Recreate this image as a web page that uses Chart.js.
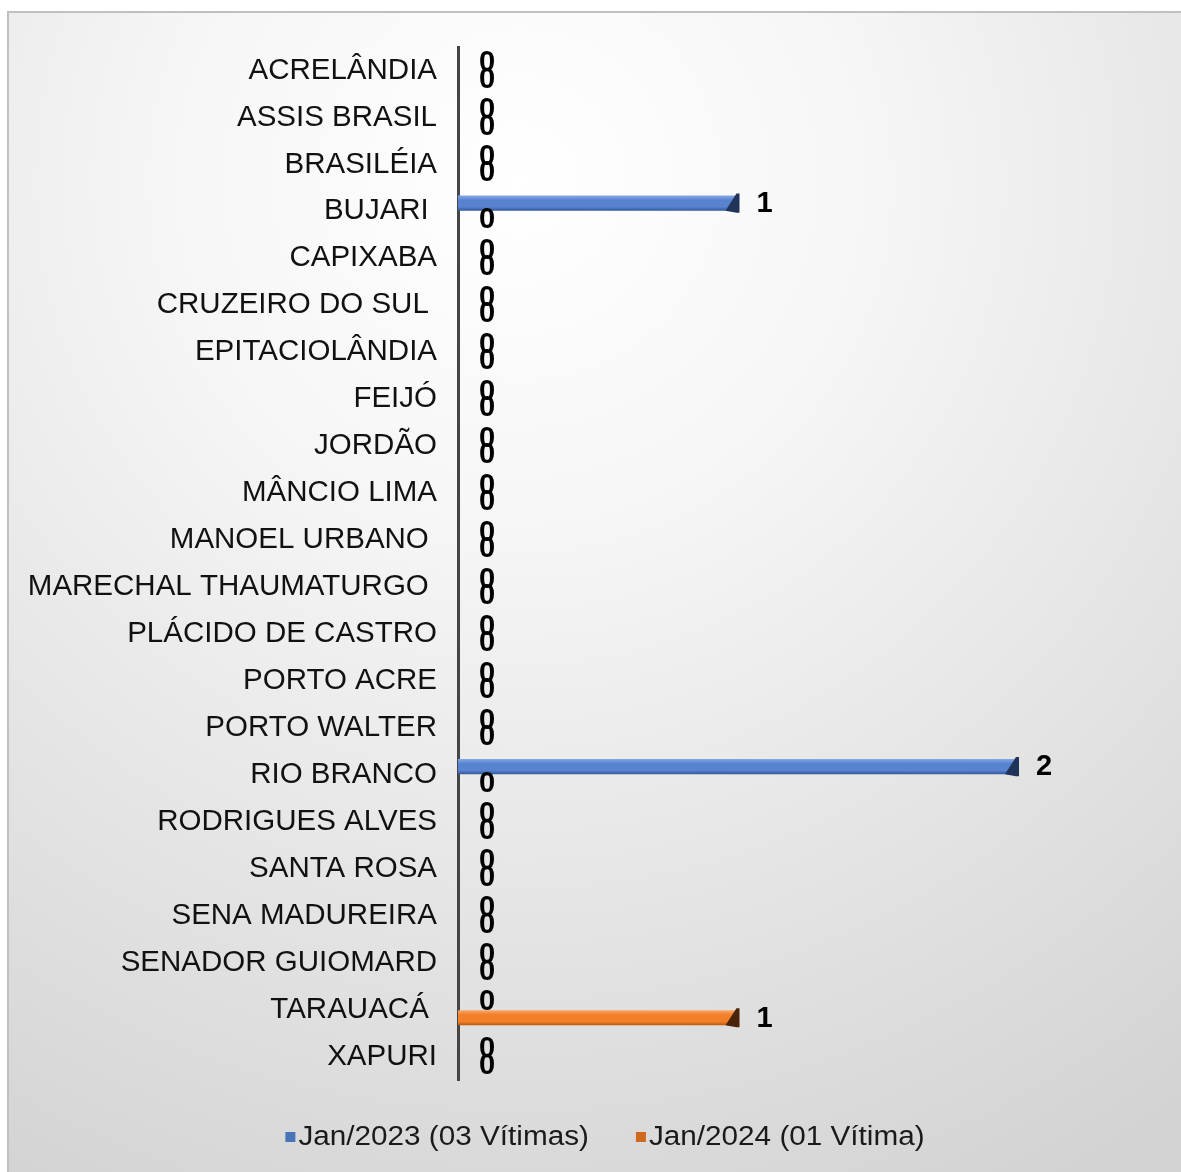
<!DOCTYPE html>
<html>
<head>
<meta charset="utf-8">
<script src="https://cdn.jsdelivr.net/npm/chart.js@4.4.1/dist/chart.umd.min.js"></script>
<style>
  html, body { margin: 0; padding: 0; background: #ffffff; }
  #wrap { width: 1181px; height: 1172px; position: relative; }
</style>
</head>
<body>
<div id="wrap"><canvas id="myChart" width="1181" height="1172"></canvas></div>
<script>
// dados
const municipios = ["ACRELÂNDIA", "ASSIS BRASIL", "BRASILÉIA", "BUJARI ", "CAPIXABA", "CRUZEIRO DO SUL ",
  "EPITACIOLÂNDIA", "FEIJÓ", "JORDÃO", "MÂNCIO LIMA", "MANOEL URBANO ", "MARECHAL THAUMATURGO ",
  "PLÁCIDO DE CASTRO", "PORTO ACRE", "PORTO WALTER", "RIO BRANCO", "RODRIGUES ALVES", "SANTA ROSA",
  "SENA MADUREIRA", "SENADOR GUIOMARD", "TARAUACÁ ", "XAPURI"];
const jan2023 = [0, 0, 0, 1, 0, 0, 0, 0, 0, 0, 0, 0, 0, 0, 0, 2, 0, 0, 0, 0, 0, 0];
const jan2024 = [0, 0, 0, 0, 0, 0, 0, 0, 0, 0, 0, 0, 0, 0, 0, 0, 0, 0, 0, 0, 1, 0];
const legendas = ["Jan/2023 (03 Vítimas)", "Jan/2024 (01 Vítima)"];

const cores = [
  { top: "#86a9e6", mid: "#5783d0", bot: "#33599c", cap: "#1f3458", legend: "#4a74b8" },
  { top: "#f9aa6a", mid: "#f2802a", bot: "#b8590d", cap: "#4a2408", legend: "#d0691e" }
];

function barFill(ds) {
  return (c) => {
    const el = c.element;
    const chart = c.chart;
    if (!el || el.y === undefined || isNaN(el.y) || !el.height) return cores[ds].mid;
    const h = el.height;
    const g = chart.ctx.createLinearGradient(0, el.y - h / 2, 0, el.y + h / 2);
    g.addColorStop(0, cores[ds].top);
    g.addColorStop(0.3, cores[ds].mid);
    g.addColorStop(0.75, cores[ds].mid);
    g.addColorStop(1, cores[ds].bot);
    return g;
  };
}

// fundo com gradiente e moldura
const fundo = {
  id: "fundo",
  beforeDraw(chart) {
    const ctx = chart.ctx;
    ctx.save();
    const g = ctx.createRadialGradient(520, 180, 0, 520, 180, 1150);
    g.addColorStop(0, "#ffffff");
    g.addColorStop(0.3, "#f6f6f6");
    g.addColorStop(1, "#d2d2d2");
    ctx.fillStyle = g;
    ctx.fillRect(8, 12, 1180, 1170);
    ctx.strokeStyle = "#c0c0c0";
    ctx.lineWidth = 2;
    ctx.strokeRect(8, 12, 1180, 1170);
    ctx.restore();
  }
};

// rotulos de dados e legenda
const rotulos = {
  id: "rotulos",
  afterDatasetsDraw(chart) {
    const ctx = chart.ctx;
    ctx.save();
    chart.data.datasets.forEach((ds, i) => {
      const meta = chart.getDatasetMeta(i);
      meta.data.forEach((bar, j) => {
        const v = ds.data[j];
        const h = bar.height;
        if (v > 0) {
          // ponta escura da barra
          ctx.fillStyle = cores[i].cap;
          ctx.beginPath();
          ctx.moveTo(bar.x - 12, bar.y + h / 2);
          ctx.lineTo(bar.x - 1, bar.y - h / 2 - 2);
          ctx.lineTo(bar.x + 2, bar.y - h / 2 - 2);
          ctx.lineTo(bar.x + 2, bar.y + h / 2 + 2);
          ctx.lineTo(bar.x - 1, bar.y + h / 2 + 2);
          ctx.closePath();
          ctx.fill();
        }
        ctx.save();
        ctx.translate(bar.x + (v > 0 ? 19 : 21), bar.y + 1);
        ctx.scale(1.12, 1.1);
        ctx.fillStyle = "#000000";
        ctx.font = "bold 26px 'Liberation Sans', Arial, sans-serif";
        ctx.textAlign = "left";
        ctx.textBaseline = "middle";
        ctx.fillText(String(v), 0, 0);
        ctx.restore();
      });
    });

    // legenda
    ctx.font = "27px 'Liberation Sans', Arial, sans-serif";
    ctx.textBaseline = "middle";
    ctx.textAlign = "left";
    const sx = 1.1;
    const box = 10, gapBox = 3, gapItem = 47;
    const widths = legendas.map(t => ctx.measureText(t).width * sx);
    let total = 0;
    widths.forEach((w, i) => { total += box + gapBox + w + (i > 0 ? gapItem : 0); });
    let x = 605 - total / 2;
    const y = 1137;
    legendas.forEach((t, i) => {
      ctx.fillStyle = cores[i].legend;
      ctx.fillRect(x, y - box / 2, box, box);
      x += box + gapBox;
      ctx.save();
      ctx.translate(x, y + 1);
      ctx.scale(sx, 1);
      ctx.fillStyle = "#1a1a1a";
      ctx.fillText(t, 0, 0);
      ctx.restore();
      x += widths[i] + gapItem;
    });
    ctx.restore();
  }
};

const config = {
  type: "bar",
  data: {
    labels: municipios,
    datasets: [
      { label: legendas[0], data: jan2023, backgroundColor: barFill(0), borderWidth: 0,
        categoryPercentage: 0.7, barPercentage: 0.92 },
      { label: legendas[1], data: jan2024, backgroundColor: barFill(1), borderWidth: 0,
        categoryPercentage: 0.7, barPercentage: 0.92 }
    ]
  },
  options: {
    indexAxis: "y",
    responsive: false,
    animation: false,
    layout: { padding: { left: 8, right: 164, top: 47, bottom: 92 } },
    plugins: {
      legend: { display: false },
      tooltip: { enabled: false }
    },
    scales: {
      x: {
        display: false,
        min: 0,
        max: 2
      },
      y: {
        afterFit: (s) => { s.width = 450; },
        grid: { display: false, drawTicks: false },
        border: { display: true, color: "#454545", width: 3 },
        ticks: {
          padding: 21,
          color: "#111111",
          font: { family: "'Liberation Sans', Arial, sans-serif", size: 29.5 }
        }
      }
    }
  },
  plugins: [fundo, rotulos]
};

const myChart = new Chart(document.getElementById("myChart"), config);
myChart.update("none");
</script>
</body>
</html>
